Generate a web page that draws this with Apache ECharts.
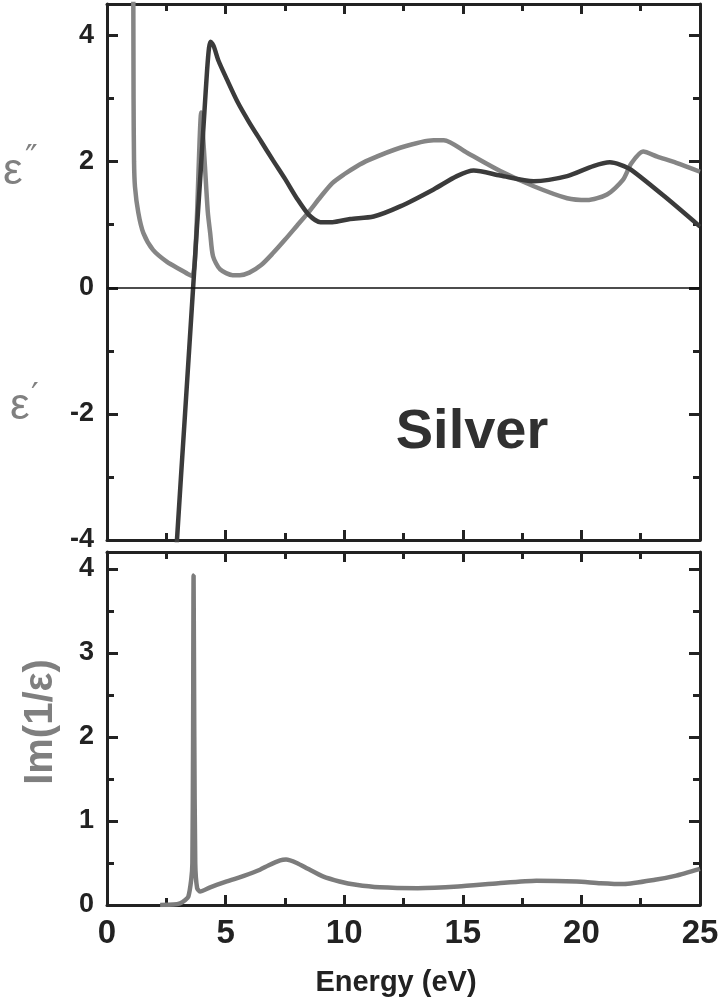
<!DOCTYPE html>
<html>
<head>
<meta charset="utf-8">
<script src="https://cdn.jsdelivr.net/npm/echarts@6/dist/echarts.min.js"></script>
<style>
  html, body { margin: 0; padding: 0; background: #fff; }
  #chart { width: 721px; height: 1004px; }
</style>
</head>
<body>
<div id="chart"></div>
<script>
// Dielectric function of silver vs photon energy (eV)
// ε′ (real part), [energy, value]
const epsReal = [
  [2.6, -6.3], [2.95, -4.0], [3.29, -2.0], [3.63, 0.0], [3.8, 1.0], [3.95, 1.85],
  [4.1, 2.75], [4.22, 3.45], [4.3, 3.8], [4.37, 3.9], [4.5, 3.83], [4.7, 3.6],
  [5.06, 3.3], [5.5, 2.95], [6.0, 2.62], [6.5, 2.32], [7.0, 2.02], [7.5, 1.73],
  [8.0, 1.42], [8.5, 1.16], [9.0, 1.04], [9.5, 1.04], [10.25, 1.09], [11.24, 1.13],
  [12.36, 1.29], [13.77, 1.56], [14.75, 1.77], [15.46, 1.86], [16.58, 1.78],
  [17.99, 1.69], [19.4, 1.77], [20.5, 1.93], [21.2, 1.99], [21.65, 1.95],
  [22.1, 1.87], [23.5, 1.45], [25.0, 0.97]
];
// ε″ (imaginary part)
const epsImag = [
  [1.08, 6.5], [1.11, 4.5], [1.12, 3.0], [1.14, 2.0], [1.18, 1.6], [1.32, 1.19],
  [1.53, 0.87], [1.94, 0.6], [2.53, 0.41], [3.08, 0.29], [3.45, 0.21], [3.6, 0.19],
  [3.7, 0.4], [3.8, 1.2], [3.9, 2.3], [3.97, 2.78], [4.05, 2.4], [4.13, 1.92],
  [4.25, 1.2], [4.35, 0.87], [4.47, 0.5], [4.77, 0.29], [5.3, 0.2], [5.6, 0.2],
  [6.0, 0.24], [6.5, 0.36], [7.0, 0.55], [7.5, 0.76], [8.0, 0.98], [8.5, 1.2],
  [9.0, 1.44], [9.5, 1.66], [10.0, 1.8], [10.5, 1.92], [11.0, 2.02], [12.36, 2.22],
  [13.77, 2.34], [14.2, 2.34], [15.18, 2.14], [16.58, 1.85], [17.99, 1.61],
  [19.4, 1.42], [20.24, 1.39], [21.08, 1.48], [21.75, 1.71], [22.1, 1.97],
  [22.6, 2.16], [23.2, 2.08], [24.0, 1.98], [25.0, 1.84]
];
// Energy-loss function Im(1/ε)
const lossFn = [
  [2.24, 0.0], [2.8, 0.005], [3.08, 0.02], [3.3, 0.06], [3.43, 0.1], [3.55, 0.3],
  [3.6, 0.5], [3.63, 2.0], [3.65, 3.92], [3.68, 2.0], [3.72, 0.5], [3.8, 0.2],
  [3.92, 0.16], [4.35, 0.21], [5.05, 0.28], [5.8, 0.35], [6.45, 0.42], [6.8, 0.47],
  [7.3, 0.53], [7.55, 0.54], [8.0, 0.5], [8.47, 0.43], [9.1, 0.34], [9.8, 0.28],
  [10.5, 0.24], [11.5, 0.21], [13.1, 0.2], [14.8, 0.22], [16.5, 0.26], [18.1, 0.29],
  [19.8, 0.28], [20.8, 0.26], [21.8, 0.25], [23.1, 0.3], [24.0, 0.35], [25.0, 0.43]
];

// Tick values
const epsMajor = [-4, -2, 0, 2, 4];
const epsMinor = [-3, -1, 1, 3];
const lossMajor = [0, 1, 2, 3, 4];
const lossMinor = [0.5, 1.5, 2.5, 3.5];

const FONT = 'Liberation Sans, Arial, Helvetica, sans-serif';
const AX = '#222';
const DARK = '#3b3b3b';
const LIGHT = '#858585';

function xAx(grid, pos, labels) {
  return {
    type: 'value', gridIndex: grid, position: pos, min: 0, max: 25, interval: 5,
    axisLine: { show: true, onZero: false, lineStyle: { color: AX, width: 3 } },
    axisTick: { show: true, inside: true, length: 10, lineStyle: { color: AX, width: 3 } },
    minorTick: { show: true, splitNumber: 2, length: 7, lineStyle: { color: AX, width: 3 } },
    axisLabel: labels ? { show: true, margin: 12, color: AX, fontSize: 33, fontWeight: 'bold', fontFamily: FONT }
                      : { show: false },
    splitLine: { show: false }
  };
}
function yAx(grid, pos, min, max, ticks, len, labels, line) {
  return {
    type: 'value', gridIndex: grid, position: pos, min: min, max: max,
    axisLine: { show: line, onZero: false, lineStyle: { color: AX, width: 3 } },
    axisTick: { show: true, inside: true, length: len, customValues: ticks, lineStyle: { color: AX, width: 3 } },
    axisLabel: labels ? { show: true, customValues: ticks, margin: 13, color: AX, fontSize: 27, fontWeight: 'bold', fontFamily: FONT }
                      : { show: false },
    splitLine: { show: false }
  };
}

const chart = echarts.init(document.getElementById('chart'), null, { renderer: 'canvas' });
chart.setOption({
  backgroundColor: '#fff',
  animation: false,
  grid: [
    { left: 107, right: 21, top: 4, height: 536, outerBoundsMode: 'none' },
    { left: 107, right: 21, top: 552, height: 353, outerBoundsMode: 'none' }
  ],
  xAxis: [
    xAx(0, 'bottom', false), xAx(0, 'top', false),
    xAx(1, 'bottom', true), xAx(1, 'top', false)
  ],
  yAxis: [
    yAx(0, 'left', -4, 4.5, epsMajor, 11, true, true),
    yAx(0, 'left', -4, 4.5, epsMinor, 7, false, false),
    yAx(0, 'right', -4, 4.5, epsMajor, 11, false, true),
    yAx(0, 'right', -4, 4.5, epsMinor, 7, false, false),
    yAx(1, 'left', 0, 4.2, lossMajor, 11, true, true),
    yAx(1, 'left', 0, 4.2, lossMinor, 7, false, false),
    yAx(1, 'right', 0, 4.2, lossMajor, 11, false, true),
    yAx(1, 'right', 0, 4.2, lossMinor, 7, false, false)
  ],
  series: [
    {
      name: 'ε″', type: 'line', xAxisIndex: 0, yAxisIndex: 0, data: epsImag,
      showSymbol: false, smooth: 0.25, clip: true,
      lineStyle: { color: LIGHT, width: 4.5 }
    },
    {
      name: 'ε′', type: 'line', xAxisIndex: 0, yAxisIndex: 0, data: epsReal,
      showSymbol: false, smooth: 0.25, clip: true,
      lineStyle: { color: DARK, width: 4.5 },
      markLine: {
        silent: true, symbol: ['none', 'none'], label: { show: false },
        lineStyle: { color: '#111', width: 1.5, type: 'solid' },
        data: [{ yAxis: 0 }]
      }
    },
    {
      name: 'Im(1/ε)', type: 'line', xAxisIndex: 2, yAxisIndex: 4, data: lossFn,
      showSymbol: false, smooth: 0.2, clip: true,
      lineStyle: { color: '#7c7c7c', width: 4.5 }
    }
  ],
  graphic: [
    { type: 'text', x: 3, y: 150, style: { text: 'ε', fontSize: 44, fontFamily: 'Liberation Sans', fill: '#808080', verticalAlign: 'alphabetic' } },
    { type: 'text', x: 25, y: 143, style: { text: '″', fontSize: 34, fontFamily: 'DejaVu Sans', fill: '#808080', verticalAlign: 'alphabetic' } },
    { type: 'text', x: 10, y: 385, style: { text: 'ε', fontSize: 44, fontFamily: 'Liberation Sans', fill: '#808080', verticalAlign: 'alphabetic' } },
    { type: 'text', x: 31, y: 381, style: { text: '′', fontSize: 34, fontFamily: 'DejaVu Sans', fill: '#808080', verticalAlign: 'alphabetic' } },
    { type: 'text', x: 472, y: 405, style: { text: 'Silver', fontSize: 56, fontWeight: 'bold', fontFamily: FONT, fill: '#303030', align: 'center', verticalAlign: 'alphabetic' } },
    { type: 'text', x: 41, y: 722, rotation: Math.PI / 2,
      style: { text: 'Im(1/ε)', fontSize: 40, fontWeight: 'bold', fontFamily: FONT, fill: '#7f7f7f', align: 'center', verticalAlign: 'middle' } },
    { type: 'text', x: 396, y: 983, style: { text: 'Energy (eV)', fontSize: 29, fontWeight: 'bold', fontFamily: FONT, fill: '#222', align: 'center', verticalAlign: 'middle' } }
  ]
});
</script>
</body>
</html>
